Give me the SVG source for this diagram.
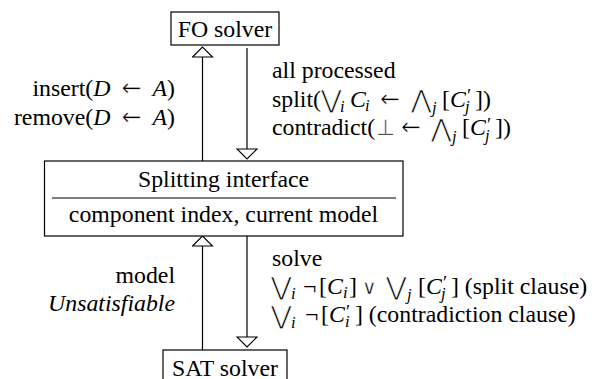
<svg xmlns="http://www.w3.org/2000/svg" width="595" height="379" viewBox="0 0 595 379">
<defs>
<style>
.t{font-family:"Liberation Serif","Times New Roman",serif;font-size:23.8px;fill:#000}
.it{font-style:italic}
.s{font-size:16.5px;font-style:italic}
.pr{font-size:19px;font-style:normal}
.op{font-family:"DejaVu Sans",sans-serif;font-size:25px;stroke:#fff;stroke-width:0.7px}
.sym{font-family:"DejaVu Sans",sans-serif;font-size:22px;stroke:#fff;stroke-width:0.5px}
.arr{font-family:"DejaVu Sans",sans-serif;font-size:24px;font-style:normal;stroke:#fff;stroke-width:0.6px}
.box{fill:#fff;stroke:#000;stroke-width:1.2}
.ln{fill:none;stroke:#000;stroke-width:1.2}
</style>
<marker id="hollow" viewBox="0 0 12 22" refX="11" refY="11" markerWidth="12" markerHeight="22" markerUnits="userSpaceOnUse" orient="auto">
<path d="M1,1 L11,11 L1,21 Z" fill="#fff" stroke="#000" stroke-width="1.1"/>
</marker>
</defs>

<g id="connectors">
<line class="ln" x1="202.5" y1="161" x2="202.5" y2="47" marker-end="url(#hollow)"/>
<line class="ln" x1="247" y1="48" x2="247" y2="159" marker-end="url(#hollow)"/>
<line class="ln" x1="202.5" y1="350" x2="202.5" y2="236" marker-end="url(#hollow)"/>
<line class="ln" x1="247" y1="236" x2="247" y2="347" marker-end="url(#hollow)"/>
</g>

<g id="fo-solver">
<rect class="box" x="171" y="12" width="108" height="33"/>
<text class="t" x="225" y="37" text-anchor="middle">FO solver</text>
</g>

<g id="splitting-interface">
<rect class="box" x="44.5" y="161" width="358.5" height="75"/>
<line class="ln" x1="52" y1="198" x2="396" y2="198"/>
<text class="t" x="223.5" y="187" text-anchor="middle">Splitting interface</text>
<text class="t" x="223.5" y="222" text-anchor="middle">component index, current model</text>
</g>

<g id="sat-solver">
<rect class="box" x="163" y="350" width="124" height="40"/>
<text class="t" x="225" y="375.5" text-anchor="middle">SAT solver</text>
</g>

<g id="label-fo-to-split">
<text class="t" x="175" y="96" text-anchor="end">insert(<tspan class="it">D</tspan><tspan class="arr" dx="11">←</tspan><tspan class="it" dx="11">A</tspan>)</text>
<text class="t" x="175" y="124.5" text-anchor="end">remove(<tspan class="it">D</tspan><tspan class="arr" dx="11">←</tspan><tspan class="it" dx="11">A</tspan>)</text>
</g>

<g id="label-split-to-fo">
<text class="t" x="272" y="78">all processed</text>
<text class="t" y="106.5"><tspan x="272">split(</tspan><tspan class="op" x="321" y="108">⋁</tspan><tspan class="s" x="340" y="112">i</tspan><tspan class="it" x="350" y="106.5">C</tspan><tspan class="s" x="365" y="110.5">i</tspan><tspan class="arr" x="380" y="106.5">←</tspan><tspan class="op" x="411" y="108">⋀</tspan><tspan class="s" x="432" y="113">j</tspan><tspan x="442" y="106.5">[</tspan><tspan class="it" x="450" y="106.5">C</tspan><tspan class="pr" x="467" y="102">′</tspan><tspan class="s" x="465" y="112">j</tspan><tspan x="475" y="106.5">])</tspan></text>
<text class="t" y="135"><tspan x="272">contradict(</tspan><tspan class="sym" x="376" y="135">⊥</tspan><tspan class="arr" x="401" y="135">←</tspan><tspan class="op" x="431" y="136.5">⋀</tspan><tspan class="s" x="452" y="141.5">j</tspan><tspan x="462" y="135">[</tspan><tspan class="it" x="470" y="135">C</tspan><tspan class="pr" x="487" y="130.5">′</tspan><tspan class="s" x="485" y="140.5">j</tspan><tspan x="495" y="135">])</tspan></text>
</g>

<g id="label-sat-to-split">
<text class="t" x="175" y="283" text-anchor="end">model</text>
<text class="t it" x="175" y="311" text-anchor="end">Unsatisfiable</text>
</g>

<g id="label-split-to-sat">
<text class="t" x="272" y="266">solve</text>
<text class="t" y="293.5"><tspan class="op" x="271" y="295">⋁</tspan><tspan class="s" x="291" y="299">i</tspan><tspan x="303" y="293.5">¬</tspan><tspan x="319" y="293.5">[</tspan><tspan class="it" x="327" y="293.5">C</tspan><tspan class="s" x="343" y="297.5">i</tspan><tspan x="349" y="293.5">]</tspan><tspan class="sym" x="362" y="294" style="font-size:20px">∨</tspan><tspan class="op" x="386" y="295">⋁</tspan><tspan class="s" x="407" y="300">j</tspan><tspan x="418" y="293.5">[</tspan><tspan class="it" x="426" y="293.5">C</tspan><tspan class="pr" x="443" y="289">′</tspan><tspan class="s" x="441" y="299">j</tspan><tspan x="451" y="293.5">] (split clause)</tspan></text>
<text class="t" y="322"><tspan class="op" x="271" y="323.5">⋁</tspan><tspan class="s" x="291" y="327.5">i</tspan><tspan x="305" y="322">¬</tspan><tspan x="321" y="322">[</tspan><tspan class="it" x="329" y="322">C</tspan><tspan class="pr" x="346" y="317.5">′</tspan><tspan class="s" x="345" y="327">i</tspan><tspan x="355" y="322">] (contradiction clause)</tspan></text>
</g>
</svg>
